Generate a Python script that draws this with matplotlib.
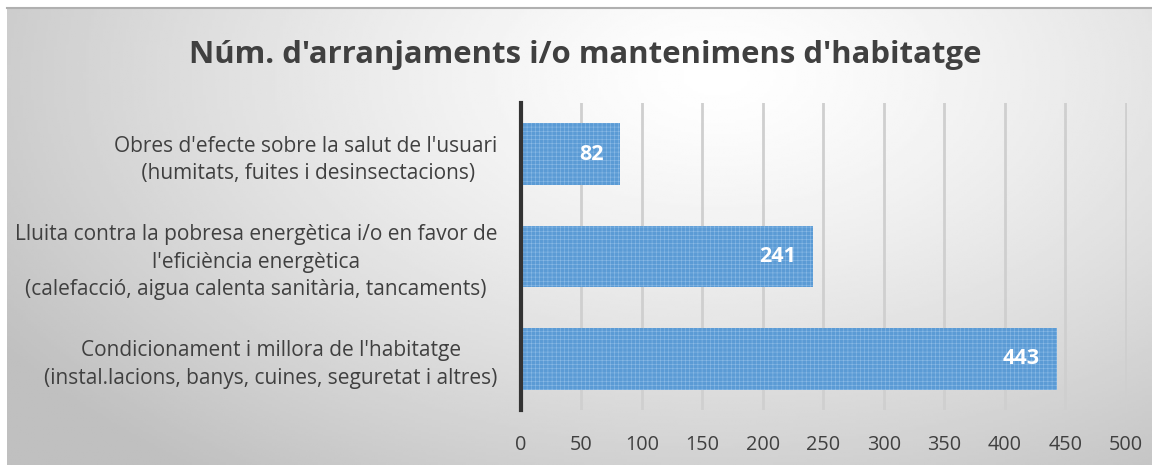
import numpy as np
import matplotlib.pyplot as plt

plt.rcParams['font.family'] = ['Open Sans', 'DejaVu Sans']

# ===============================
# DATA
# ===============================
categories = [
    "Condicionament i millora de l'habitatge\n(instal.lacions, banys, cuines, seguretat i altres)",
    "Lluita contra la pobresa energètica i/o en favor de\nl'eficiència energètica\n(calefacció, aigua calenta sanitària, tancaments)",
    "Obres d'efecte sobre la salut de l'usuari\n (humitats, fuites i desinsectacions)",
]
values = [443, 241, 82]
xticks = list(range(0, 501, 50))

title = "Núm. d'arranjaments i/o mantenimens d'habitatge"
TEXT = "#404040"
BAR = "#5b9bd5"

# ===============================
# FIGURE + BACKGROUND
# ===============================
fig = plt.figure(figsize=(11.52, 4.65), dpi=100)

bg = fig.add_axes([7 / 1152, 0, 1 - 7 / 1152, 1 - 8 / 465])
yy, xx = np.mgrid[0:1:200j, 0:1:400j]
dist = np.sqrt(((xx - 0.62) / 0.75) ** 2 + ((yy - 0.15) / 1.1) ** 2)
shade = 1.0 - 0.25 * np.clip(dist, 0, 1) ** 1.3
bg.imshow(shade, cmap="gray", vmin=0, vmax=1, aspect="auto",
          extent=[0, 1, 0, 1], origin="upper")
bg.set_axis_off()
fig.add_artist(plt.Line2D([7 / 1152, 1], [1 - 8 / 465, 1 - 8 / 465],
                          color="#b0b0b0", lw=1.5, transform=fig.transFigure))

# ===============================
# BAR CHART
# ===============================
left, right = 521 / 1152, 1127 / 1152
top, bottom = 103 / 465, 410 / 465
ax = fig.add_axes([left, 1 - bottom, right - left, bottom - top])
ax.patch.set_alpha(0)

y = np.arange(len(categories))
plt.rcParams['hatch.color'] = "#8cbbe6"
plt.rcParams['hatch.linewidth'] = 0.4
bars = ax.barh(y, values, height=0.6, color=BAR, hatch="++++",
               edgecolor="#8cbbe6", linewidth=0, zorder=3)

for b, v in zip(bars, values):
    ax.text(v - 14, b.get_y() + b.get_height() / 2, str(v), color="white",
            fontsize=15.5, fontweight="bold", ha="right", va="center", zorder=4)

ax.set_xlim(0, 501)
ax.set_ylim(-0.5, len(categories) - 0.5)
ax.set_xticks(xticks)
ax.set_yticks(y)
ax.set_yticklabels(categories, fontsize=15, color=TEXT,
                   multialignment="center", linespacing=1.4)
ax.tick_params(axis="x", labelsize=14.3, colors=TEXT, length=0, pad=18)
ax.tick_params(axis="y", length=0, pad=17)
ax.grid(axis="x", color="#cfcfcf", lw=2, zorder=1)
for s in ["top", "right", "bottom"]:
    ax.spines[s].set_visible(False)
ax.spines["left"].set_color("#333333")
ax.spines["left"].set_linewidth(3)
ax.spines["left"].set_zorder(5)

fig.text(585 / 1152, 1 - 55 / 465, title, ha="center", va="center",
         fontsize=22.4, fontweight="bold", color=TEXT)

fig.savefig("out.png", dpi=100)
